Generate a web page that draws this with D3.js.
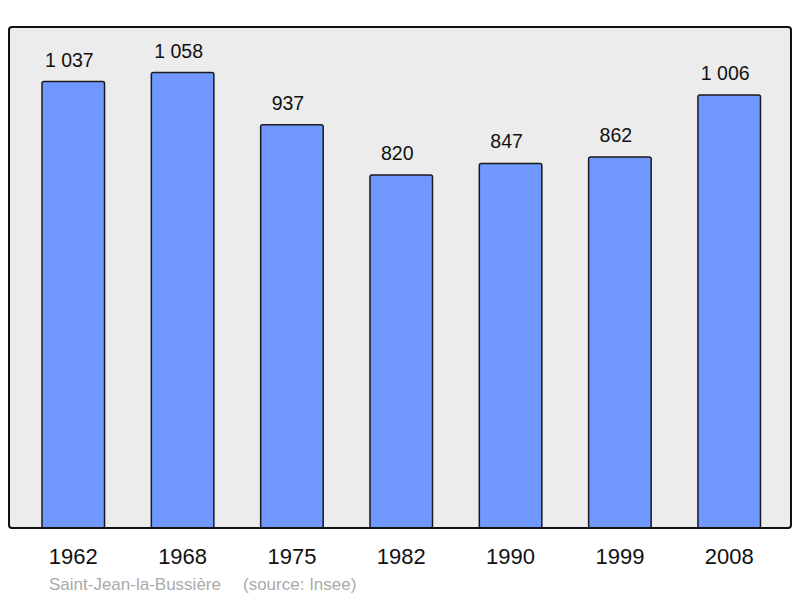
<!DOCTYPE html>
<html><head><meta charset="utf-8">
<script src="https://cdn.jsdelivr.net/npm/d3@7"></script>
<style>body{margin:0;background:#fff}svg{display:block}</style>
</head><body>
<script>
const years = ["1962","1968","1975","1982","1990","1999","2008"];
const population = [1037,1058,937,820,847,862,1006];
const placeName = "Saint-Jean-la-Bussière";
const sourceText = "(source: Insee)";

const W = 800, H = 598;
const frame = {x0: 9, y0: 27, x1: 791, y1: 528};
const svg = d3.select("body").append("svg").attr("width", W).attr("height", H);
const font = "'Liberation Sans', Arial, sans-serif";

svg.append("rect").attr("x", frame.x0).attr("y", frame.y0)
  .attr("width", frame.x1 - frame.x0).attr("height", frame.y1 - frame.y0)
  .attr("rx", 3).attr("fill", "#ececec");

const x = d3.scaleBand().domain(years).range([9, 793.5])
  .paddingInner(0.428).paddingOuter(0.302);
const y = d3.scaleLinear().domain([0, d3.max(population) * 1.1]).range([frame.y1, frame.y0]);
const fmt = v => d3.format(",")(v).replace(/,/g, " ");

const g = svg.append("g");
g.selectAll("rect.bar").data(years).join("rect").attr("class","bar")
  .attr("x", d => x(d)).attr("width", x.bandwidth())
  .attr("y", (d,i) => y(population[i])).attr("height", (d,i) => y(0) - y(population[i]))
  .attr("rx", 2)
  .attr("fill", "#7098ff").attr("stroke", "#1a1a1a").attr("stroke-width", 1.5);

g.selectAll("text.val").data(years).join("text").attr("class","val")
  .attr("x", d => x(d) + x.bandwidth()/2 - 4)
  .attr("y", (d,i) => y(population[i]) - 15)
  .attr("text-anchor","middle").attr("font-family", font).attr("font-size", 19.5)
  .attr("fill","#111").text((d,i) => fmt(population[i]));

// frame outline
svg.append("rect").attr("x", frame.x0).attr("y", frame.y0)
  .attr("width", frame.x1 - frame.x0).attr("height", frame.y1 - frame.y0)
  .attr("rx", 3).attr("fill", "none").attr("stroke", "#111").attr("stroke-width", 2);

// x axis labels
const xAxis = d3.axisBottom(x).tickSize(0).tickPadding(0);
const ax = svg.append("g").attr("transform", `translate(0,${frame.y1})`).call(xAxis);
ax.select(".domain").remove();
ax.selectAll("text").attr("font-family", font).attr("font-size", 22).attr("fill","#111")
  .attr("dy", null).attr("y", 36);

svg.append("text").attr("x", 49).attr("y", 590).attr("font-family", font)
  .attr("font-size", 17).attr("fill", "#aaaaaa").text(placeName);
svg.append("text").attr("x", 243).attr("y", 590).attr("font-family", font)
  .attr("font-size", 17).attr("fill", "#aaaaaa").text(sourceText);
</script>
</body></html>
